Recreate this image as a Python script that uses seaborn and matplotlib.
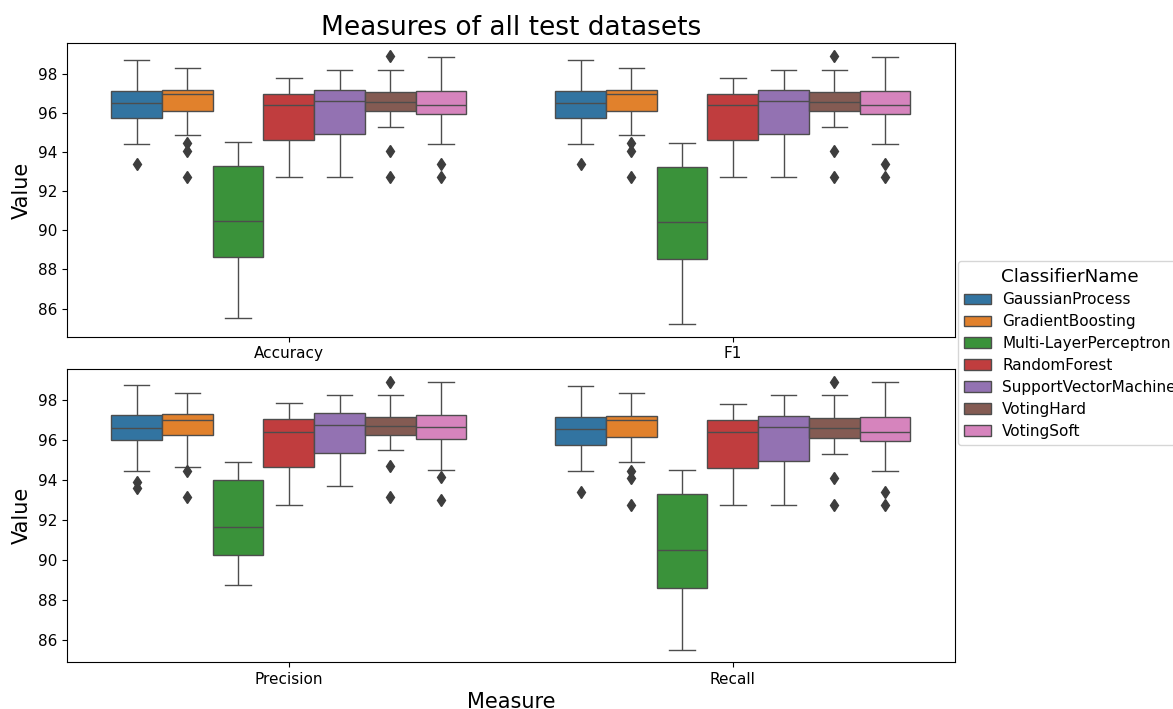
import pandas as pd
import seaborn as sns
import matplotlib.pyplot as plt

classifiers = ['GaussianProcess', 'GradientBoosting', 'Multi-LayerPerceptron',
               'RandomForest', 'SupportVectorMachine', 'VotingHard',
               'VotingSoft']

# scores per test dataset (17 datasets)
accuracy = {
    'GaussianProcess': [93.38, 94.42, 95.10, 95.50, 95.76, 95.90, 96.10, 96.30, 96.53,
                        96.70, 96.85, 97.00, 97.12, 97.40, 97.80, 98.20, 98.69],
    'GradientBoosting': [92.75, 94.06, 94.44, 94.86, 96.12, 96.40, 96.70, 96.90, 96.99,
                         97.05, 97.10, 97.15, 97.19, 97.50, 97.80, 98.10, 98.31],
    'Multi-LayerPerceptron': [85.54, 86.50, 87.40, 88.10, 88.64, 89.20, 89.70, 90.10, 90.46,
                              91.00, 91.80, 92.60, 93.28, 93.60, 93.90, 94.20, 94.49],
    'RandomForest': [92.75, 93.40, 93.90, 94.30, 94.61, 95.20, 95.70, 96.10, 96.38,
                     96.60, 96.75, 96.90, 96.99, 97.20, 97.40, 97.60, 97.79],
    'SupportVectorMachine': [92.75, 93.40, 94.00, 94.50, 94.91, 95.50, 96.00, 96.30, 96.61,
                             96.80, 96.95, 97.05, 97.16, 97.50, 97.80, 98.00, 98.21],
    'VotingHard': [92.75, 94.06, 95.27, 95.70, 96.10, 96.25, 96.40, 96.50, 96.58,
                   96.70, 96.85, 96.95, 97.07, 97.40, 97.80, 98.21, 98.89],
    'VotingSoft': [92.75, 93.38, 94.42, 95.30, 95.93, 96.05, 96.15, 96.25, 96.38,
                   96.60, 96.80, 96.95, 97.12, 97.50, 98.00, 98.40, 98.88],
}

f1 = {
    'GaussianProcess': [93.37, 94.42, 95.10, 95.50, 95.76, 95.90, 96.10, 96.30, 96.53,
                        96.70, 96.85, 97.00, 97.12, 97.40, 97.80, 98.20, 98.69],
    'GradientBoosting': [92.75, 94.06, 94.44, 94.86, 96.12, 96.40, 96.70, 96.90, 96.99,
                         97.05, 97.10, 97.15, 97.19, 97.50, 97.80, 98.10, 98.31],
    'Multi-LayerPerceptron': [85.22, 86.30, 87.20, 88.00, 88.52, 89.10, 89.60, 90.00, 90.41,
                              91.00, 91.80, 92.60, 93.25, 93.60, 93.90, 94.20, 94.45],
    'RandomForest': [92.75, 93.40, 93.90, 94.30, 94.61, 95.20, 95.70, 96.10, 96.38,
                     96.60, 96.75, 96.90, 96.99, 97.20, 97.40, 97.60, 97.78],
    'SupportVectorMachine': [92.72, 93.40, 94.00, 94.50, 94.91, 95.50, 96.00, 96.30, 96.61,
                             96.80, 96.95, 97.05, 97.16, 97.50, 97.80, 98.00, 98.21],
    'VotingHard': [92.75, 94.06, 95.27, 95.70, 96.10, 96.25, 96.40, 96.50, 96.58,
                   96.70, 96.85, 96.95, 97.07, 97.40, 97.80, 98.21, 98.89],
    'VotingSoft': [92.75, 93.37, 94.42, 95.30, 95.93, 96.05, 96.15, 96.25, 96.38,
                   96.60, 96.80, 96.95, 97.12, 97.50, 98.00, 98.40, 98.88],
}

precision = {
    'GaussianProcess': [93.60, 93.90, 94.42, 95.60, 95.97, 96.10, 96.25, 96.40, 96.58,
                        96.75, 96.95, 97.10, 97.23, 97.60, 98.00, 98.40, 98.73],
    'GradientBoosting': [93.17, 94.42, 94.65, 95.80, 96.22, 96.50, 96.70, 96.85, 96.97,
                         97.05, 97.15, 97.22, 97.28, 97.60, 97.90, 98.10, 98.33],
    'Multi-LayerPerceptron': [88.77, 89.30, 89.70, 90.00, 90.25, 90.70, 91.00, 91.30, 91.63,
                              92.20, 92.80, 93.40, 93.97, 94.20, 94.40, 94.60, 94.87],
    'RandomForest': [92.75, 93.40, 93.90, 94.30, 94.62, 95.20, 95.70, 96.10, 96.38,
                     96.60, 96.80, 96.95, 97.05, 97.25, 97.45, 97.65, 97.82],
    'SupportVectorMachine': [93.67, 94.20, 94.60, 95.00, 95.33, 95.80, 96.20, 96.50, 96.73,
                             96.90, 97.05, 97.20, 97.33, 97.60, 97.85, 98.05, 98.23],
    'VotingHard': [93.17, 94.67, 95.50, 95.90, 96.22, 96.40, 96.50, 96.60, 96.70,
                   96.80, 96.90, 97.00, 97.13, 97.40, 97.80, 98.23, 98.88],
    'VotingSoft': [92.98, 94.15, 94.50, 95.60, 96.03, 96.20, 96.35, 96.50, 96.62,
                   96.80, 96.95, 97.10, 97.23, 97.60, 98.00, 98.40, 98.88],
}

recall = {
    'GaussianProcess': [93.38, 94.43, 95.10, 95.50, 95.75, 95.90, 96.10, 96.30, 96.53,
                        96.70, 96.85, 97.00, 97.13, 97.40, 97.80, 98.20, 98.70],
    'GradientBoosting': [92.73, 94.07, 94.45, 94.87, 96.12, 96.40, 96.70, 96.90, 96.98,
                         97.05, 97.10, 97.14, 97.18, 97.50, 97.80, 98.10, 98.32],
    'Multi-LayerPerceptron': [85.53, 86.50, 87.40, 88.10, 88.62, 89.20, 89.70, 90.10, 90.48,
                              91.00, 91.80, 92.60, 93.30, 93.60, 93.90, 94.20, 94.50],
    'RandomForest': [92.73, 93.40, 93.90, 94.30, 94.60, 95.20, 95.70, 96.10, 96.38,
                     96.60, 96.75, 96.90, 96.98, 97.20, 97.40, 97.60, 97.78],
    'SupportVectorMachine': [92.73, 93.40, 94.00, 94.50, 94.95, 95.50, 96.00, 96.30, 96.63,
                             96.80, 96.95, 97.05, 97.17, 97.50, 97.80, 98.00, 98.23],
    'VotingHard': [92.73, 94.07, 95.28, 95.70, 96.08, 96.25, 96.40, 96.50, 96.58,
                   96.70, 96.85, 96.95, 97.08, 97.40, 97.80, 98.23, 98.88],
    'VotingSoft': [92.73, 93.40, 94.43, 95.30, 95.95, 96.05, 96.15, 96.25, 96.38,
                   96.60, 96.80, 96.95, 97.13, 97.50, 98.00, 98.40, 98.88],
}


def to_long(measures):
    rows = []
    for measure, scores in measures.items():
        for name in classifiers:
            for v in scores[name]:
                rows.append({'Measure': measure, 'ClassifierName': name,
                             'Value': v})
    return pd.DataFrame(rows)


def main():
    top = to_long({'Accuracy': accuracy, 'F1': f1})
    bottom = to_long({'Precision': precision, 'Recall': recall})

    fig = plt.figure(figsize=(11.73, 7.09), dpi=100)
    ax1 = fig.add_axes([0.057, 0.525, 0.757, 0.414])
    ax2 = fig.add_axes([0.057, 0.066, 0.757, 0.414])

    box_kws = dict(x='Measure', y='Value', hue='ClassifierName',
                   hue_order=classifiers, linecolor='0.3', linewidth=1,
                   fliersize=6.5,
                   flierprops={'marker': 'd', 'markerfacecolor': '0.24',
                               'markeredgecolor': '0.24'})
    sns.boxplot(data=top, ax=ax1, **box_kws)
    sns.boxplot(data=bottom, ax=ax2, **box_kws)

    handles, labels = ax1.get_legend_handles_labels()
    ax1.get_legend().remove()
    ax2.get_legend().remove()
    fig.legend(handles, labels, title='ClassifierName', loc='center left',
               bbox_to_anchor=(0.814, 0.502), fontsize=11,
               title_fontsize=13.2, handlelength=1.8, handletextpad=0.7,
               borderaxespad=0.2, labelspacing=0.45)

    ax1.set_title('Measures of all test datasets', fontsize=19)
    ax1.set_xlabel('')
    ax1.set_ylabel('Value', fontsize=15)
    ax2.set_xlabel('Measure', fontsize=15)
    ax2.set_ylabel('Value', fontsize=15)
    for ax in (ax1, ax2):
        ax.tick_params(labelsize=11)
        ax.set_yticks([86, 88, 90, 92, 94, 96, 98])
    ax1.set_ylim(84.56, 99.56)
    ax2.set_ylim(84.9, 99.55)

    plt.savefig('out.png', dpi=100)


if __name__ == '__main__':
    main()
